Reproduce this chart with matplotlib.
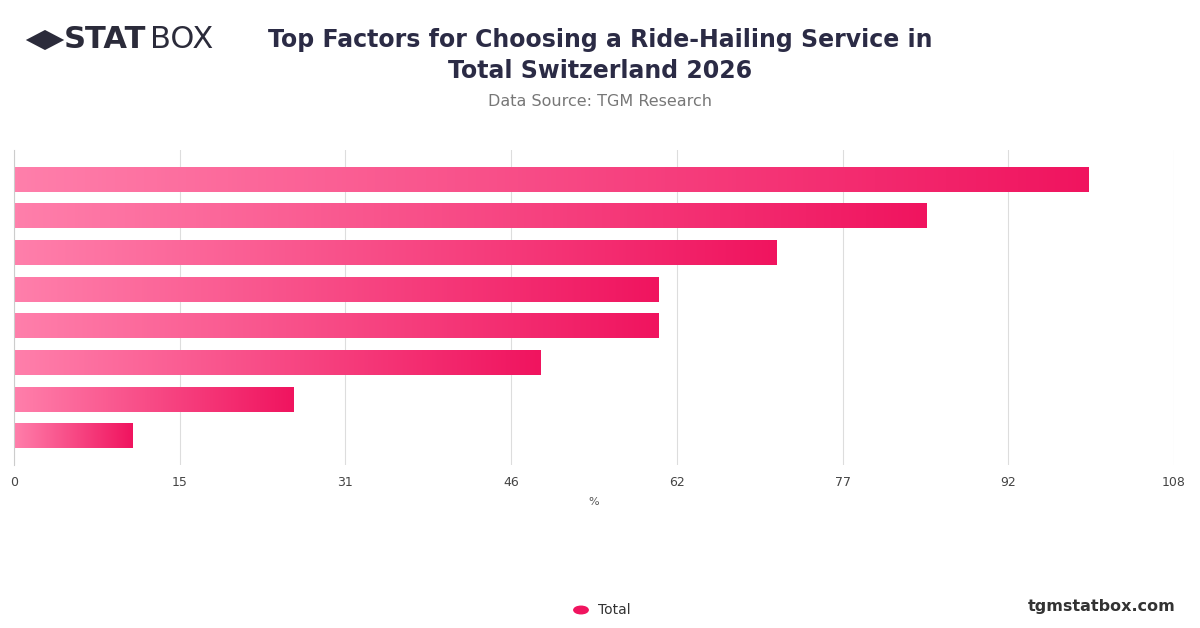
import matplotlib
matplotlib.use("Agg")
import matplotlib.pyplot as plt
import numpy as np
from matplotlib.colors import LinearSegmentedColormap
from matplotlib.patches import FancyBboxPatch, Rectangle, RegularPolygon

values = [100, 85, 71, 60, 60, 49, 26, 11]
xmax = 108
tick_vals = [i * 108 / 7 for i in range(8)]
tick_labels = ["0", "15", "31", "46", "62", "77", "92", "108"]

fig = plt.figure(figsize=(12, 6.28), dpi=100)
ax = fig.add_axes([14/1200, 1-465/628, 1160/1200, 315/628])
ax.set_xlim(0, xmax)
n = len(values)
ax.set_ylim(n - 0.5 + 0.3, -0.5 - 0.3)
cmap = LinearSegmentedColormap.from_list("g", ["#ff7fab", "#f0145f"])
h = 0.68
for i, v in enumerate(values):
    grad = np.linspace(0, 1, 256).reshape(1, -1)
    ax.imshow(grad, cmap=cmap, aspect="auto", extent=[0, v, i + h/2, i - h/2], zorder=2)
ax.set_ylim(n - 0.5 + 0.3, -0.5 - 0.3)
ax.set_xlim(0, xmax)
ax.set_xticks(tick_vals)
ax.set_xticklabels(tick_labels, fontsize=9, color="#444444")
ax.set_yticks([])
ax.grid(axis="x", color="#dddddd", lw=0.8, zorder=0)
for s in ["top", "right", "bottom"]:
    ax.spines[s].set_visible(False)
ax.spines["left"].set_color("#cccccc")
ax.tick_params(axis="x", length=0, pad=8)
ax.set_xlabel("%", fontsize=8, color="#555555", labelpad=6)

fig.text(0.5, 1-40/628, "Top Factors for Choosing a Ride-Hailing Service in", ha="center", va="center", fontsize=17, fontweight="bold", color="#2b2b45")
fig.text(0.5, 1-71/628, "Total Switzerland 2026", ha="center", va="center", fontsize=17, fontweight="bold", color="#2b2b45")
fig.text(0.5, 1-101/628, "Data Source: TGM Research", ha="center", va="center", fontsize=11.5, color="#777777")

# logo
fig.patches.append(RegularPolygon((45/1200, 1-40/628), 4, radius=0.016, orientation=0, transform=fig.transFigure, facecolor="#2b2b3a", figure=fig))
fig.text(64/1200, 1-40/628, "STAT", ha="left", va="center", fontsize=22, fontweight="bold", color="#2b2b3a")
fig.text(150/1200, 1-40/628, "BOX", ha="left", va="center", fontsize=22, color="#2b2b3a")

# legend
fig.patches.append(plt.Circle((581/1200, 1-610/628), 0.006, transform=fig.transFigure, color="#f0145f", figure=fig))
fig.text(598/1200, 1-610/628, "Total", ha="left", va="center", fontsize=10, color="#333333")
fig.text(1176/1200, 1-606/628, "tgmstatbox.com", ha="right", va="center", fontsize=11.5, fontweight="bold", color="#333333")

fig.savefig("out.png", dpi=100, facecolor="white")
